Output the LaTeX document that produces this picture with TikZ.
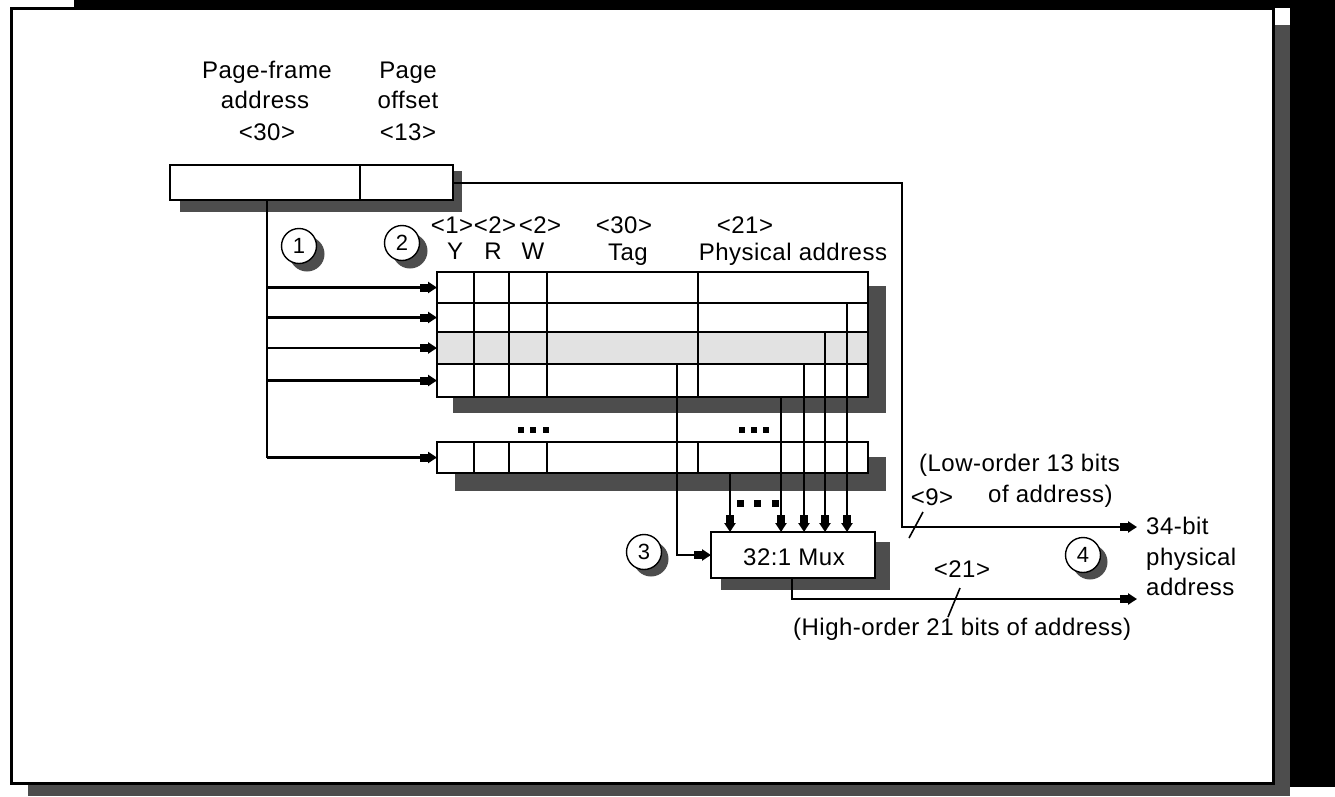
\documentclass[tikz,border=0pt]{standalone}
\usepackage{fontspec}
\setmainfont[LetterSpace=2]{Liberation Sans}
\usetikzlibrary{arrows.meta}
\definecolor{dropgrey}{HTML}{4D4D4D}
\definecolor{rowgrey}{HTML}{E2E2E2}
\tikzset{
  cellbox/.style={draw=black,line width=2.4pt,fill=white,rectangle,anchor=north west,inner sep=0pt,outer sep=0pt},
  drop/.style={fill=dropgrey,draw=none},
  wire/.style={draw=black,line width=2.4pt},
  feed/.style={wire,-{Rectangle[length=8pt,width=8pt,sep=0pt]Triangle[length=9pt,width=11pt]}},
  grid/.style={draw=black,line width=2.4pt},
  tick/.style={draw=black,line width=1.6pt},
  lbl/.style={font=\fontsize{24}{26}\selectfont,inner sep=0pt,anchor=mid,text=black,yshift=-6pt},
  lblw/.style={lbl,anchor=mid west},
  step mark/.style={circle,draw=black,line width=1.4pt,fill=white,minimum size=35pt,inner sep=0pt,font=\fontsize{22}{24}\selectfont},
  step drop/.style={circle,fill=dropgrey,minimum size=35pt,inner sep=0pt},
  dot/.style={fill=black,draw=none,minimum size=6pt,inner sep=0pt,rectangle},
}
\begin{document}
\begin{tikzpicture}[x=1pt,y=-1pt]
\useasboundingbox (0,0) rectangle (1335,796);
% surroundings and sheet
\fill[black] (74,0) rectangle (1335,8);
\fill[black] (1290,0) rectangle (1335,787);
\fill[white] (1274,8) rectangle (1290,25);
\fill[dropgrey] (28,25) rectangle (1290,796);
\node[draw=black,line width=3pt,fill=white,rectangle,anchor=north west,minimum width=1262pt,minimum height=775pt,inner sep=0pt,outer sep=0pt] (sheet) at (11,8.5) {};

% shadows
\fill[drop] (180,171) rectangle (462,212);
\fill[drop] (453,286) rectangle (886,413);
\fill[drop] (455,457) rectangle (886,491);
\fill[drop] (721,542) rectangle (890,590);

% address register
\node[cellbox,minimum width=283pt,minimum height=35pt] (reg) at (170,165) {};
\coordinate (regdiv) at (360,165);
\draw[grid] (regdiv) -- (regdiv |- reg.south);

% page table rows
\node[cellbox,minimum width=431pt,minimum height=31pt] (r1) at (437,272) {};
\node[cellbox,minimum width=431pt,minimum height=29pt] (r2) at (437,303) {};
\node[cellbox,minimum width=431pt,minimum height=32pt,fill=rowgrey] (r3) at (437,332) {};
\node[cellbox,minimum width=431pt,minimum height=33pt] (r4) at (437,364) {};
\node[cellbox,minimum width=431pt,minimum height=31pt] (rl) at (437,442) {};
\foreach \cx in {474,509,547,698}{
  \draw[grid] (\cx,272) -- (\cx,397);
  \draw[grid] (\cx,442) -- (\cx,473);
}

% multiplexer
\node[cellbox,minimum width=164pt,minimum height=46pt] (mux) at (711,532) {};
\node[lbl] (muxt) at (794,557) {32:1 Mux};
\coordinate (m1) at (730,532);
\coordinate (m2) at (781,532);
\coordinate (m3) at (804,532);
\coordinate (m4) at (825,532);
\coordinate (m5) at (847,532);

% bus from the register to the table
\coordinate (bus) at (267,200);
\draw[wire] (bus) -- (bus |- rl.west);
\draw[feed] (bus |- r1.west) -- (r1.west);
\draw[feed] (bus |- r2.west) -- (r2.west);
\draw[feed] (bus |- r3.west) -- (r3.west);
\draw[feed] (bus |- r4.west) -- (r4.west);
\draw[feed] (bus |- rl.west) -- (rl.west);

% table outputs to the multiplexer
\draw[feed] (rl.south -| m1) -- (m1);
\draw[feed] (r4.south -| m2) -- (m2);
\draw[feed] (r4.north -| m3) -- (m3);
\draw[feed] (r3.north -| m4) -- (m4);
\draw[feed] (r2.north -| m5) -- (m5);
\coordinate (tagout) at (677,364);
\draw[feed] (tagout) |- (mux.west);

% output wires
\coordinate (lowend) at (1137,527);
\coordinate (highend) at (1137,599);
\coordinate (lowturn) at (902,183);
\coordinate (muxout) at (792,578);
\draw[feed] (reg.east |- lowturn) -- (lowturn) |- (lowend);
\draw[feed] (muxout) |- (highend);

% bit-width ticks
\coordinate (t9a) at (923,512);
\coordinate (t9b) at (909,538);
\coordinate (t21a) at (960,588);
\coordinate (t21b) at (948,617);
\draw[tick] (t9a) -- (t9b);
\draw[tick] (t21a) -- (t21b);

% dots
\foreach \dx in {521,533,546}{\node[dot] at (\dx,430) {};}
\foreach \dx in {742,754,766}{\node[dot] at (\dx,430) {};}
\foreach \dx in {740,757,775}{\node[dot,minimum size=7pt] at (\dx,503) {};}

% step circles
\node[step drop] at (307,254) {};
\node[step mark] (c1) at (299,246) {1};
\node[step drop] at (410,251) {};
\node[step mark] (c2) at (402,243) {2};
\node[step drop] at (651,559) {};
\node[step mark] (c3) at (644,552) {3};
\node[step drop] at (1090,562) {};
\node[step mark] (c4) at (1083,555) {4};

% labels
\node[lbl] at (267,70) {Page-frame};
\node[lbl] at (265,100) {address};
\node[lbl] at (267,132) {<30>};
\node[lbl] at (408,70) {Page};
\node[lbl] at (408,100) {offset};
\node[lbl] at (408,132) {<13>};
\node[lbl] at (452,225) {<1>};
\node[lbl] at (495,225) {<2>};
\node[lbl] at (540,225) {<2>};
\node[lbl] at (455,251) {Y};
\node[lbl] at (493,251) {R};
\node[lbl] at (533,251) {W};
\node[lbl] at (624,225) {<30>};
\node[lbl] at (628,252) {Tag};
\node[lbl] at (745,225) {<21>};
\node[lbl] at (793,252) {Physical address};
\node[lblw] at (919,463) {(Low-order 13 bits};
\node[lblw] at (988,494) {of address)};
\node[lbl] at (932,497) {<9>};
\node[lblw] at (1146,526) {34-bit};
\node[lblw] at (1146,557) {physical};
\node[lblw] at (1146,587) {address};
\node[lbl] at (962,569) {<21>};
\node[lblw] at (793,627) {(High-order 21 bits of address)};
\end{tikzpicture}
\end{document}
